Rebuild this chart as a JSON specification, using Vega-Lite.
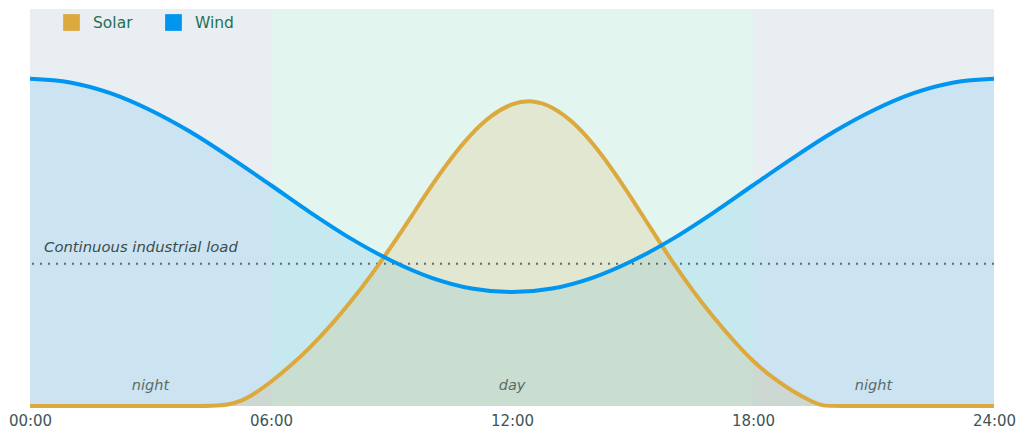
{
  "$schema": "https://vega.github.io/schema/vega-lite/v6.json",
  "width": 964,
  "height": 397,
  "autosize": {"type": "none"},
  "padding": {"left": 30, "top": 9, "right": 30, "bottom": 32},
  "background": "#ffffff",
  "config": {
    "view": {"stroke": null},
    "font": "DejaVu Sans"
  },
  "datasets": {
    "bands": [
      {"start": 0, "end": 6, "period": "night"},
      {"start": 6, "end": 18, "period": "day"},
      {"start": 18, "end": 24, "period": "night"}
    ],
    "wind": [
      {"hour": 0, "source": "Wind", "value": 0.824},
      {"hour": 1, "source": "Wind", "value": 0.815},
      {"hour": 2, "source": "Wind", "value": 0.788},
      {"hour": 3, "source": "Wind", "value": 0.745},
      {"hour": 4, "source": "Wind", "value": 0.690},
      {"hour": 5, "source": "Wind", "value": 0.625},
      {"hour": 6, "source": "Wind", "value": 0.556},
      {"hour": 7, "source": "Wind", "value": 0.486},
      {"hour": 8, "source": "Wind", "value": 0.421},
      {"hour": 9, "source": "Wind", "value": 0.366},
      {"hour": 10, "source": "Wind", "value": 0.323},
      {"hour": 11, "source": "Wind", "value": 0.296},
      {"hour": 12, "source": "Wind", "value": 0.287},
      {"hour": 13, "source": "Wind", "value": 0.296},
      {"hour": 14, "source": "Wind", "value": 0.323},
      {"hour": 15, "source": "Wind", "value": 0.366},
      {"hour": 16, "source": "Wind", "value": 0.421},
      {"hour": 17, "source": "Wind", "value": 0.486},
      {"hour": 18, "source": "Wind", "value": 0.556},
      {"hour": 19, "source": "Wind", "value": 0.625},
      {"hour": 20, "source": "Wind", "value": 0.690},
      {"hour": 21, "source": "Wind", "value": 0.745},
      {"hour": 22, "source": "Wind", "value": 0.788},
      {"hour": 23, "source": "Wind", "value": 0.815},
      {"hour": 24, "source": "Wind", "value": 0.824}
    ],
    "solar": [
      {"hour": 0, "source": "Solar", "value": 0},
      {"hour": 2, "source": "Solar", "value": 0},
      {"hour": 4, "source": "Solar", "value": 0},
      {"hour": 5, "source": "Solar", "value": 0},
      {"hour": 5.5, "source": "Solar", "value": 0.024},
      {"hour": 6, "source": "Solar", "value": 0.060},
      {"hour": 6.5, "source": "Solar", "value": 0.102},
      {"hour": 7, "source": "Solar", "value": 0.150},
      {"hour": 7.5, "source": "Solar", "value": 0.204},
      {"hour": 8, "source": "Solar", "value": 0.264},
      {"hour": 8.5, "source": "Solar", "value": 0.330},
      {"hour": 9, "source": "Solar", "value": 0.402},
      {"hour": 9.5, "source": "Solar", "value": 0.478},
      {"hour": 10, "source": "Solar", "value": 0.556},
      {"hour": 10.5, "source": "Solar", "value": 0.627},
      {"hour": 11, "source": "Solar", "value": 0.688},
      {"hour": 11.5, "source": "Solar", "value": 0.734},
      {"hour": 12, "source": "Solar", "value": 0.763},
      {"hour": 12.5, "source": "Solar", "value": 0.771},
      {"hour": 13, "source": "Solar", "value": 0.755},
      {"hour": 13.5, "source": "Solar", "value": 0.718},
      {"hour": 14, "source": "Solar", "value": 0.664},
      {"hour": 14.5, "source": "Solar", "value": 0.596},
      {"hour": 15, "source": "Solar", "value": 0.520},
      {"hour": 15.5, "source": "Solar", "value": 0.440},
      {"hour": 16, "source": "Solar", "value": 0.362},
      {"hour": 16.5, "source": "Solar", "value": 0.290},
      {"hour": 17, "source": "Solar", "value": 0.225},
      {"hour": 17.5, "source": "Solar", "value": 0.166},
      {"hour": 18, "source": "Solar", "value": 0.112},
      {"hour": 18.5, "source": "Solar", "value": 0.070},
      {"hour": 19, "source": "Solar", "value": 0.036},
      {"hour": 19.5, "source": "Solar", "value": 0.009},
      {"hour": 19.75, "source": "Solar", "value": 0},
      {"hour": 20, "source": "Solar", "value": 0},
      {"hour": 22, "source": "Solar", "value": 0},
      {"hour": 24, "source": "Solar", "value": 0}
    ],
    "periods": [
      {"hour": 3, "label": "night"},
      {"hour": 12, "label": "day"},
      {"hour": 21, "label": "night"}
    ],
    "load": [
      {"hour": 0.35, "level": 0.358, "label": "Continuous industrial load"}
    ]
  },
  "layer": [
    {
      "data": {"name": "bands"},
      "mark": {"type": "rect"},
      "encoding": {
        "x": {"field": "start", "type": "quantitative", "scale": {"domain": [0, 24], "nice": false},
          "axis": {"values": [0, 6, 12, 18, 24], "labelExpr": "(datum.value < 10 ? '0' : '') + datum.value + ':00'", "grid": false, "ticks": false, "domain": false, "title": null, "labelFontSize": 15, "labelColor": "#3d5656", "labelPadding": 7, "labelFlush": false, "labelOverlap": false, "labelFont": "DejaVu Sans"}},
        "x2": {"field": "end"},
        "y": {"datum": 0, "type": "quantitative", "scale": {"domain": [0, 1], "nice": false}, "axis": null},
        "y2": {"datum": 1},
        "color": {"condition": {"test": "datum.period === 'day'", "value": "#e2f5ef"}, "value": "#e9eef2"}
      }
    },
    {
      "data": {"name": "wind"},
      "mark": {"type": "area", "interpolate": "monotone", "fillOpacity": 0.12},
      "encoding": {
        "x": {"field": "hour", "type": "quantitative"},
        "y": {"field": "value", "type": "quantitative"},
        "color": {"field": "source", "type": "nominal", "scale": {"domain": ["Solar", "Wind"], "range": ["#dba93e", "#0095ef"]},
          "legend": {"title": null, "orient": "none", "legendX": 33, "legendY": 5, "direction": "horizontal", "symbolType": "square", "symbolSize": 280, "symbolStrokeWidth": 0, "symbolOpacity": 1, "labelFontSize": 15.5, "labelColor": "#1f7055", "labelFont": "DejaVu Sans", "labelOffset": 13, "columnPadding": 32, "padding": 0,
            "encode": {"symbols": {"update": {"fill": {"scale": "color", "field": "value"}, "fillOpacity": {"value": 1}, "opacity": {"value": 1}, "strokeWidth": {"value": 0}}}}}}
      }
    },
    {
      "data": {"name": "solar"},
      "mark": {"type": "area", "interpolate": "basis", "fillOpacity": 0.17},
      "encoding": {
        "x": {"field": "hour", "type": "quantitative"},
        "y": {"field": "value", "type": "quantitative"},
        "color": {"field": "source", "type": "nominal"}
      }
    },
    {
      "data": {"name": "load"},
      "mark": {"type": "rule", "color": "#5f6868", "strokeWidth": 2, "strokeDash": [2, 6]},
      "encoding": {
        "y": {"field": "level", "type": "quantitative"}
      }
    },
    {
      "data": {"name": "load"},
      "mark": {"type": "text", "align": "left", "baseline": "alphabetic", "dy": -12, "fontSize": 14.8, "fontStyle": "italic", "color": "#3a4d4d", "font": "DejaVu Sans"},
      "encoding": {
        "x": {"field": "hour", "type": "quantitative"},
        "y": {"field": "level", "type": "quantitative"},
        "text": {"field": "label"}
      }
    },
    {
      "data": {"name": "solar"},
      "mark": {"type": "line", "interpolate": "basis", "strokeWidth": 4},
      "encoding": {
        "x": {"field": "hour", "type": "quantitative"},
        "y": {"field": "value", "type": "quantitative"},
        "color": {"field": "source", "type": "nominal"}
      }
    },
    {
      "data": {"name": "wind"},
      "mark": {"type": "line", "interpolate": "monotone", "strokeWidth": 4},
      "encoding": {
        "x": {"field": "hour", "type": "quantitative"},
        "y": {"field": "value", "type": "quantitative"},
        "color": {"field": "source", "type": "nominal"}
      }
    },
    {
      "data": {"name": "periods"},
      "mark": {"type": "text", "align": "center", "baseline": "alphabetic", "dy": -16, "fontSize": 14.5, "fontStyle": "italic", "color": "#5a6b6b", "font": "DejaVu Sans"},
      "encoding": {
        "x": {"field": "hour", "type": "quantitative"},
        "y": {"datum": 0, "type": "quantitative"},
        "text": {"field": "label"}
      }
    }
  ]
}
